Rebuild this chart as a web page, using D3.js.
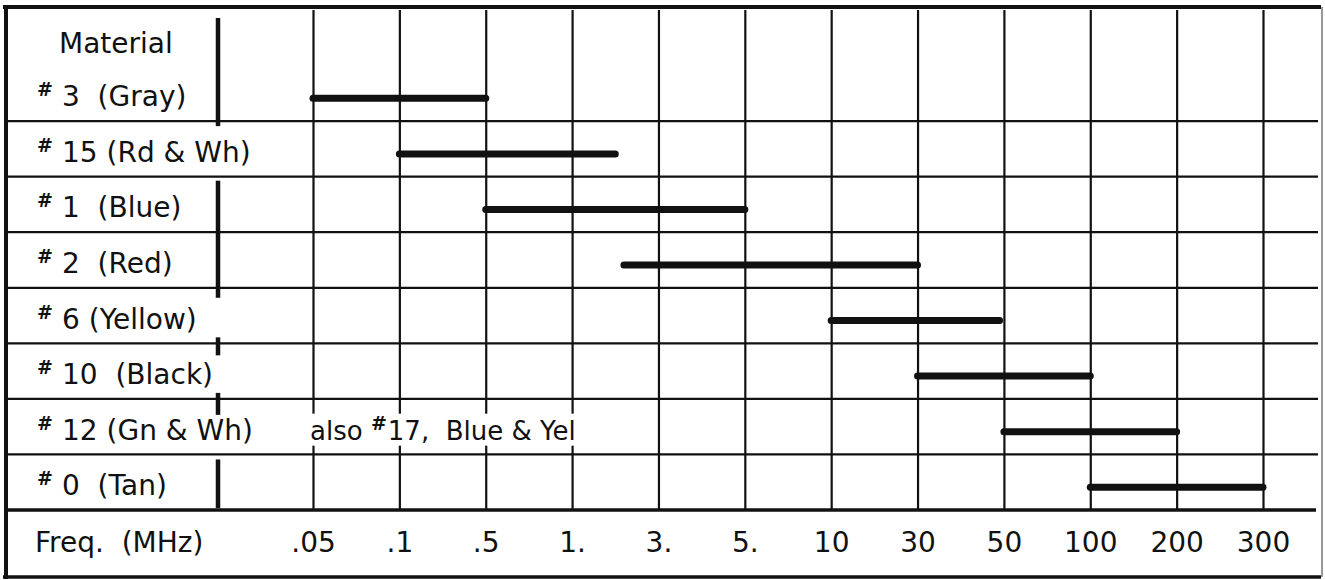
<!DOCTYPE html>
<html><head><meta charset="utf-8">
<script src="https://cdn.jsdelivr.net/npm/d3@7"></script>
<style>
html,body{margin:0;padding:0;background:#fff;}
svg{display:block;}
text{font-family:"DejaVu Sans",sans-serif;fill:#111;white-space:pre;}
</style></head><body>
<svg id="chart" width="1325" height="580"></svg>
<script>
// ---- data ----
const headerLabel = "Material";
const materialNumbers = ["3", "15", "1", "2", "6", "10", "12", "0"];
const materialLabels = ["3  (Gray)", "15 (Rd & Wh)", "1  (Blue)", "2  (Red)", "6 (Yellow)", "10  (Black)", "12 (Gn & Wh)", "0  (Tan)"];
const rangeLow  = [0.05, 0.1, 0.5, 2.2, 10, 30, 50, 100];
const rangeHigh = [0.5, 2, 5, 30, 49, 100, 200, 300];
const freqTicks = [0.05, 0.1, 0.5, 1, 3, 5, 10, 30, 50, 100, 200, 300];
const freqTickLabels = [".05", ".1", ".5", "1.", "3.", "5.", "10", "30", "50", "100", "200", "300"];
const axisTitle = "Freq.  (MHz)";
const noteRow = "12";
const noteParts = ["also ", "#", "17,  Blue & Yel"];

// ---- layout ----
const W = 1325, H = 580;
const gridTop = 10, plotBottom = 510, frameBottom = 577;
const frameLeft = 6, frameRight = 1321;
const ink = "#111";
const svg = d3.select("#chart");
svg.append("rect").attr("width", W).attr("height", H).attr("fill", "#fff");

const xPoint = d3.scalePoint().domain(freqTickLabels).range([313, 1263]);
const x = d3.scaleLinear().domain(freqTicks).range(freqTickLabels.map(l => xPoint(l)));
const rowKeys = ["header", ...materialNumbers];
const y = d3.scaleBand().domain(rowKeys).range([gridTop, plotBottom]);
const bw = y.bandwidth();

// vertical grid lines via axis
const grid = svg.append("g").attr("transform", `translate(0,${plotBottom})`)
  .call(d3.axisBottom(xPoint).tickSize(-(plotBottom - gridTop)).tickFormat(""));
grid.select(".domain").remove();
grid.selectAll(".tick line").attr("stroke", ink).attr("stroke-width", 2.2);

// horizontal row lines
svg.append("g").selectAll("line").data(materialNumbers.slice(1)).join("line")
  .attr("x1", frameLeft).attr("x2", frameRight - 3)
  .attr("y1", d => y(d)).attr("y2", d => y(d))
  .attr("stroke", ink).attr("stroke-width", 2.2);

// note in row 12 (with white backing that hides grid)
const noteG = svg.append("g");
const noteText = noteG.append("text").attr("x", 310).attr("y", y(noteRow) + bw / 2 + 13)
  .attr("font-size", 26);
noteText.append("tspan").text(noteParts[0]);
noteText.append("tspan").text(noteParts[1]).attr("font-size", 19).attr("font-weight", "bold").attr("dy", -10);
noteText.append("tspan").text(noteParts[2]).attr("dy", 10).attr("dx", 1);
const nb = noteText.node().getBBox();
noteG.insert("rect", "text").attr("x", nb.x - 6).attr("y", nb.y + 2)
  .attr("width", nb.width + 12).attr("height", nb.height - 2).attr("fill", "#fff");

// frequency range bars
svg.append("g").selectAll("line").data(materialNumbers).join("line")
  .attr("x1", (d, i) => x(rangeLow[i])).attr("x2", (d, i) => x(rangeHigh[i]))
  .attr("y1", d => y(d) + bw / 2 + 5).attr("y2", d => y(d) + bw / 2 + 5)
  .attr("stroke", ink).attr("stroke-width", 7).attr("stroke-linecap", "round");

// divider between label column and grid
const divX = 218;
const divSpans = [[y("header") + 8, y("3") + bw + 5], [y("1") + 4, y("2") + bw + 10],
  [y("10") - 6, y("10") + 12], [y("12") - 6, y("12") + 16], [y("0") + 5, plotBottom - 2]];
svg.append("g").selectAll("line").data(divSpans).join("line")
  .attr("x1", divX).attr("x2", divX).attr("y1", d => d[0]).attr("y2", d => d[1])
  .attr("stroke", ink).attr("stroke-width", 4.5);

// row labels
svg.append("text").attr("x", 59).attr("y", y("header") + bw / 2 + 15)
  .attr("font-size", 28).text(headerLabel);
const lab = svg.append("g").selectAll("g").data(materialNumbers).join("g");
lab.append("text").attr("x", 37).attr("y", d => y(d) + bw / 2 + 3)
  .attr("font-size", 19).attr("font-weight", "bold").text("#");
lab.append("text").attr("x", 62).attr("y", d => y(d) + bw / 2 + 13)
  .attr("font-size", 28).text((d, i) => materialLabels[i]);

// bottom axis labels
const ax = svg.append("g").attr("transform", `translate(0,${plotBottom})`)
  .call(d3.axisBottom(xPoint).tickSize(0).tickPadding(0));
ax.select(".domain").remove();
ax.selectAll(".tick text").attr("font-size", 28).attr("font-family", "DejaVu Sans")
  .attr("fill", ink).attr("dy", 0).attr("y", 42);
svg.append("text").attr("x", 35).attr("y", 552).attr("font-size", 28).text(axisTitle);

// borders
svg.append("line").attr("x1", 3).attr("x2", frameRight).attr("y1", 7).attr("y2", 7)
  .attr("stroke", ink).attr("stroke-width", 4);
svg.append("line").attr("x1", frameLeft).attr("x2", frameRight - 5).attr("y1", plotBottom).attr("y2", plotBottom)
  .attr("stroke", ink).attr("stroke-width", 3.5);
svg.append("line").attr("x1", frameLeft).attr("x2", frameLeft).attr("y1", 5).attr("y2", frameBottom + 2)
  .attr("stroke", ink).attr("stroke-width", 4);
svg.append("line").attr("x1", 3).attr("x2", frameRight).attr("y1", frameBottom).attr("y2", frameBottom)
  .attr("stroke", ink).attr("stroke-width", 3.5);
svg.append("line").attr("x1", frameRight + 1).attr("x2", frameRight + 1).attr("y1", 7).attr("y2", frameBottom)
  .attr("stroke", "#777").attr("stroke-width", 1.5);
</script>
</body></html>
